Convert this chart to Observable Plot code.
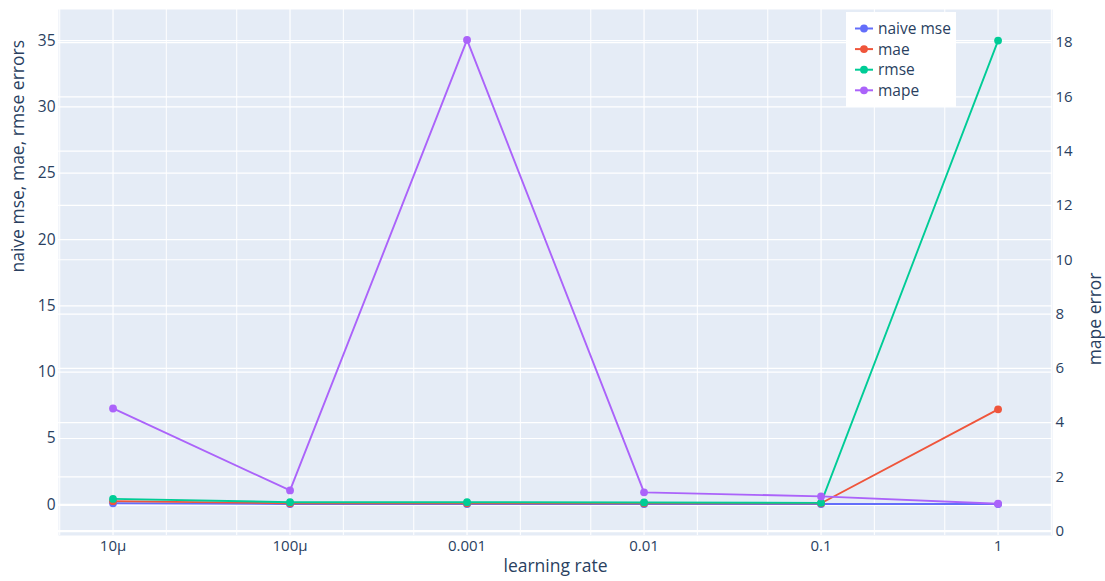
<!DOCTYPE html>
<html>
<head>
<meta charset="utf-8">
<script src="https://cdn.jsdelivr.net/npm/d3@7"></script>
<script src="https://cdn.jsdelivr.net/npm/@observablehq/plot@0.6"></script>
<style>
  html, body { margin: 0; padding: 0; background: #fff; }
  #chart { position: relative; width: 1105px; height: 581px; }
</style>
</head>
<body>
<div id="chart"></div>
<script>
// ---- data ----
const learningRates = [1e-5, 1e-4, 1e-3, 1e-2, 1e-1, 1];
const learningRateLabels = ["10µ", "100µ", "0.001", "0.01", "0.1", "1"];
const naiveMse = [0.12, 0.06, 0.06, 0.06, 0.06, 0.06];
const mae      = [0.28, 0.12, 0.12, 0.12, 0.12, 7.2];
const rmse     = [0.45, 0.2, 0.2, 0.18, 0.15, 35.0];
const mape     = [4.52, 1.50, 18.1, 1.43, 1.28, 1.01];
const seriesNames  = ["naive mse", "mae", "rmse", "mape"];
const seriesColors = ["#636efa", "#EF553B", "#00cc96", "#ab63fa"];
const leftTicks  = [0, 5, 10, 15, 20, 25, 30, 35];
const rightTicks = [0, 2, 4, 6, 8, 10, 12, 14, 16, 18];
const minorGrid  = [5e-6, 2e-5, 5e-5, 2e-4, 5e-4, 2e-3, 5e-3, 2e-2, 5e-2, 0.2, 0.5, 2];

// ---- scales ----
const xDomain = [4.92e-6, 2.03];
const leftDomain = [-2.31, 37.34];
const rightDomain = [-0.16, 19.22];
const toLeft = r => leftDomain[0] + (r - rightDomain[0]) / (rightDomain[1] - rightDomain[0]) * (leftDomain[1] - leftDomain[0]);
const toRight = l => rightDomain[0] + (l - leftDomain[0]) / (leftDomain[1] - leftDomain[0]) * (rightDomain[1] - rightDomain[0]);

const leftSeries = [naiveMse, mae, rmse];
const rows = [];
seriesNames.forEach((name, s) => {
  learningRates.forEach((lr, i) => {
    const raw = s < 3 ? leftSeries[s][i] : mape[i];
    rows.push({series: name, lr, y: s < 3 ? raw : toLeft(raw)});
  });
});

const textColor = "#2a3f5f";
const seriesMarks = seriesNames.flatMap((name, s) => {
  const d = rows.filter(r => r.series === name);
  return [
    Plot.line(d, {x: "lr", y: "y", stroke: seriesColors[s], strokeWidth: 1.9}),
    Plot.dot(d, {x: "lr", y: "y", r: 3.9, fill: seriesColors[s], stroke: null})
  ];
});

const chart = Plot.plot({
  width: 1105,
  height: 581,
  marginLeft: 58,
  marginRight: 53,
  marginTop: 9,
  marginBottom: 46,
  style: {fontFamily: '"Open Sans", sans-serif', fontSize: "15px", color: textColor, background: "white", overflow: "visible"},
  x: {type: "log", domain: xDomain, axis: null},
  y: {domain: leftDomain, axis: null},
  marks: [
    Plot.frame({fill: "#E5ECF6", stroke: null}),
    Plot.gridX(minorGrid.filter(v => v >= xDomain[0] && v <= xDomain[1]), {stroke: "white", strokeOpacity: 1, strokeWidth: 1}),
    Plot.gridX(learningRates, {stroke: "white", strokeOpacity: 1, strokeWidth: 1.2}),
    Plot.gridY(leftTicks.filter(v => v !== 0), {stroke: "white", strokeOpacity: 1, strokeWidth: 1.2}),
    Plot.gridY(rightTicks.filter(v => v !== 0).map(toLeft), {stroke: "white", strokeOpacity: 1, strokeWidth: 1.2}),
    Plot.ruleY([0], {stroke: "white", strokeWidth: 2.4}),
    Plot.ruleY([toLeft(0)], {stroke: "white", strokeWidth: 2.4}),
    ...seriesMarks,
    Plot.axisX(learningRates, {anchor: "bottom", tickSize: 0, tickPadding: 5, fontSize: 15, label: null,
      tickFormat: d => learningRateLabels[learningRates.indexOf(d)]}),
    Plot.axisY(leftTicks, {anchor: "left", tickSize: 0, tickPadding: 3, fontSize: 15.5, label: null, tickFormat: d => String(d)}),
    Plot.axisY(rightTicks.map(toLeft), {anchor: "right", tickSize: 0, tickPadding: 3, fontSize: 15, label: null,
      tickFormat: d => String(Math.round(toRight(d)))}),
    Plot.text(["learning rate"], {frameAnchor: "bottom", dy: 36, fontSize: 17.5, fill: textColor}),
    Plot.text(["naive mse, mae, rmse errors"], {frameAnchor: "left", dx: -40, rotate: -90, fontSize: 17.5, fill: textColor}),
    Plot.text(["mape error"], {frameAnchor: "right", dx: 43, rotate: -90, fontSize: 17.5, fill: textColor})
  ]
});

document.getElementById("chart").appendChild(chart);

// ---- legend ----
const svg = d3.select(chart);
const lg = svg.append("g").attr("class", "legend").attr("text-anchor", "start");
lg.append("rect").attr("x", 846).attr("y", 12).attr("width", 110).attr("height", 95).attr("fill", "white");
seriesNames.forEach((name, i) => {
  const yy = 28.5 + i * 20.6;
  lg.append("line").attr("x1", 855).attr("x2", 873).attr("y1", yy).attr("y2", yy)
    .attr("stroke", seriesColors[i]).attr("stroke-width", 2);
  lg.append("circle").attr("cx", 864).attr("cy", yy).attr("r", 3.9).attr("fill", seriesColors[i]);
  lg.append("text").attr("x", 878).attr("y", yy).attr("dy", "0.35em").attr("text-anchor", "start")
    .attr("font-size", 15.5).attr("fill", textColor).text(name);
});
</script>
</body>
</html>
